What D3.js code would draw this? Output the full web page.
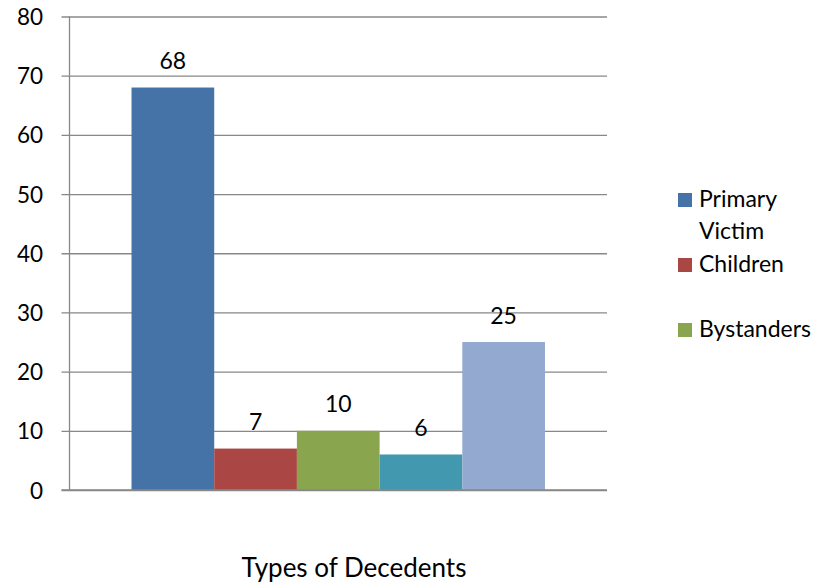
<!DOCTYPE html>
<html>
<head>
<meta charset="utf-8">
<script src="https://cdn.jsdelivr.net/npm/d3@7"></script>
<style>
    body { margin: 0; background: #fff; }
    text { font-family: Lato, "Liberation Sans", sans-serif; fill: #000; }
</style>
</head>
<body>
<div id="chart"></div>
<script>
// Chart data
const categories = ["Types of Decedents"];
const seriesNames = ["Primary Victim", "Children", "Bystanders", "Series 4", "Series 5"];
const seriesValues = [68, 7, 10, 6, 25];
const seriesColors = ["#4572A7", "#AA4643", "#89A54E", "#4198AF", "#93A9CF"];
const yTicks = [0, 10, 20, 30, 40, 50, 60, 70, 80];
// only the first three entries fit in the legend box
const legendItems = [
    { label: ["Primary", "Victim"], color: seriesColors[0], y: 193 },
    { label: ["Children"], color: seriesColors[1], y: 258 },
    { label: ["Bystanders"], color: seriesColors[2], y: 323 }
];

const width = 838, height = 585;
const plot = { left: 69.5, right: 607, top: 16.5, bottom: 490 };

const svg = d3.select("#chart")
    .append("svg")
    .attr("width", width)
    .attr("height", height);

const y = d3.scaleLinear().domain([0, 80]).range([plot.bottom, plot.top]);

// one category, series side by side, 150% gap width like the original
const x0 = d3.scaleBand()
    .domain(categories)
    .range([plot.left, plot.right])
    .paddingInner(0)
    .paddingOuter(0.15);

const x1 = d3.scaleBand()
    .domain(seriesNames)
    .range([0, x0.bandwidth()]);

/**
 * Draw gridlines and the y axis.
 */
function drawAxes() {
    const yAxis = d3.axisLeft(y)
        .tickValues(yTicks)
        .tickSize(plot.right - plot.left + 8)
        .tickFormat(d3.format("d"));

    const g = svg.append("g")
        .attr("transform", `translate(${plot.right},0)`)
        .call(yAxis);

    g.select(".domain").remove();
    g.selectAll(".tick line")
        .attr("stroke", "#888")
        .attr("stroke-width", 1.3);
    g.selectAll(".tick text")
        .attr("x", -(plot.right - 43))
        .attr("dy", "0.36em")
        .attr("font-size", 22.5)
        .attr("font-family", "Lato, sans-serif")
        .attr("fill", "#000");

    // vertical axis line
    svg.append("line")
        .attr("x1", plot.left)
        .attr("x2", plot.left)
        .attr("y1", plot.top)
        .attr("y2", plot.bottom)
        .attr("stroke", "#888")
        .attr("stroke-width", 1.3);
}

/**
 * Draw the bars and their value labels.
 */
function drawBars() {
    const data = seriesNames.map((name, i) => ({
        category: categories[0],
        name,
        value: seriesValues[i],
        color: seriesColors[i]
    }));

    const group = svg.append("g");

    group.selectAll(".bar")
        .data(data)
        .enter().append("rect")
        .attr("class", "bar")
        .attr("x", d => x0(d.category) + x1(d.name))
        .attr("y", d => y(d.value))
        .attr("width", x1.bandwidth())
        .attr("height", d => y(0) - y(d.value))
        .attr("fill", d => d.color);

    group.selectAll(".label")
        .data(data)
        .enter().append("text")
        .attr("class", "label")
        .attr("x", d => x0(d.category) + x1(d.name) + x1.bandwidth() / 2)
        .attr("y", d => y(d.value) - 18.5)
        .attr("text-anchor", "middle")
        .attr("font-size", 23)
        .text(d => d.value);

    // bottom axis line sits over the bars
    svg.append("line")
        .attr("x1", plot.left - 8)
        .attr("x2", plot.right)
        .attr("y1", plot.bottom)
        .attr("y2", plot.bottom)
        .attr("stroke", "#888")
        .attr("stroke-width", 1.3);
}

/**
 * Draw the legend and the axis title.
 */
function drawLegend() {
    const legend = svg.append("g");

    legendItems.forEach(item => {
        legend.append("rect")
            .attr("x", 678)
            .attr("y", item.y)
            .attr("width", 14)
            .attr("height", 14)
            .attr("fill", item.color);

        item.label.forEach((line, j) => {
            legend.append("text")
                .attr("x", 699)
                .attr("y", item.y + 14 + j * 32)
                .attr("font-size", 23)
                .text(line);
        });
    });

    svg.append("text")
        .attr("x", 354)
        .attr("y", 577)
        .attr("text-anchor", "middle")
        .attr("font-size", 26)
        .text(categories[0]);
}

drawAxes();
drawBars();
drawLegend();
</script>
</body>
</html>
